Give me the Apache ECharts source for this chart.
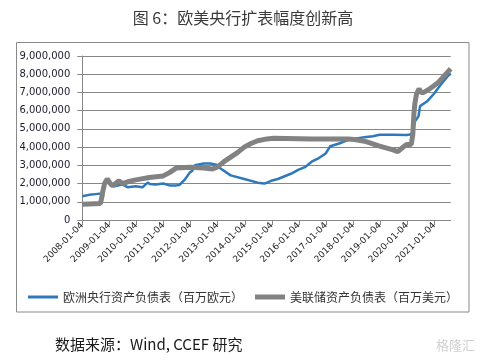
<!DOCTYPE html>
<html><head><meta charset="utf-8">
<script src="https://cdn.jsdelivr.net/npm/echarts@6/dist/echarts.min.js"></script>
<style>html,body{margin:0;padding:0;background:#fff}#c{width:486px;height:360px}</style>
</head><body><div id="c"></div>
<script>
const titleText = '图 6：欧美央行扩表幅度创新高';
const sourceText = '数据来源：Wind, CCEF 研究';
const ecbName = '欧洲央行资产负债表（百万欧元）';
const fedName = '美联储资产负债表（百万美元）';
const tickYears = [2008,2009,2010,2011,2012,2013,2014,2015,2016,2017,2018,2019,2020,2021];
const yTicks = [0,1000000,2000000,3000000,4000000,5000000,6000000,7000000,8000000,9000000];

const ecbDates = ['2008-01-04','2008-04-04','2008-07-04','2008-09-19','2008-10-17','2008-11-14','2008-12-26','2009-03-06','2009-06-26','2009-09-04','2009-12-25','2010-03-26','2010-06-04','2010-07-02','2010-09-24','2010-12-31','2011-03-25','2011-06-24','2011-08-05','2011-10-14','2011-12-23','2012-01-27','2012-03-02','2012-06-29','2012-09-28','2012-12-28','2013-02-01','2013-06-28','2013-12-27','2014-06-27','2014-09-26','2014-12-26','2015-03-27','2015-06-26','2015-09-25','2015-12-25','2016-03-25','2016-06-24','2016-09-30','2016-12-30','2017-03-03','2017-06-30','2017-09-29','2017-12-29','2018-03-30','2018-06-29','2018-09-28','2018-12-28','2019-06-28','2019-12-27','2020-02-28','2020-03-20','2020-04-17','2020-06-05','2020-06-26','2020-09-25','2020-12-25','2021-03-26','2021-06-25','2021-08-13'];
const ecbValues = [1300000,1380000,1420000,1450000,1850000,2050000,2050000,1850000,1950000,1800000,1850000,1800000,2050000,1980000,1950000,2000000,1900000,1900000,1920000,2200000,2600000,2700000,3000000,3100000,3100000,3020000,2850000,2450000,2250000,2050000,2000000,2150000,2250000,2400000,2550000,2750000,2900000,3200000,3400000,3650000,4050000,4200000,4350000,4450000,4500000,4550000,4600000,4680000,4680000,4670000,4700000,4900000,5400000,5700000,6250000,6500000,6900000,7400000,7850000,8050000];

const fedDates = ['2008-01-04','2008-09-05','2008-09-26','2008-10-03','2008-10-31','2008-12-05','2008-12-26','2009-01-23','2009-02-20','2009-04-10','2009-05-08','2009-07-03','2009-09-25','2009-12-25','2010-06-25','2010-12-31','2011-03-25','2011-06-24','2011-12-30','2012-06-29','2012-10-26','2012-12-28','2013-03-29','2013-06-28','2013-09-27','2013-12-27','2014-03-28','2014-06-27','2014-10-31','2015-01-30','2016-06-24','2017-10-27','2018-01-26','2018-06-29','2018-12-28','2019-06-28','2019-08-30','2019-10-25','2019-12-27','2020-02-28','2020-03-20','2020-04-03','2020-04-17','2020-05-08','2020-06-12','2020-07-10','2020-08-14','2020-10-16','2020-12-25','2021-02-26','2021-04-23','2021-06-18','2021-08-13'];
const fedValues = [870000,900000,1300000,1500000,2000000,2250000,2250000,1950000,1880000,2050000,2150000,2000000,2120000,2200000,2330000,2420000,2600000,2850000,2900000,2850000,2800000,2900000,3200000,3450000,3700000,4000000,4200000,4350000,4450000,4480000,4450000,4450000,4420000,4300000,4050000,3850000,3750000,3950000,4150000,4150000,4700000,5800000,6400000,6900000,7200000,7000000,7000000,7150000,7350000,7550000,7800000,8050000,8300000];

function ts(s){ const p=s.split('-'); return Date.UTC(+p[0], +p[1]-1, +p[2]); }
function pair(d, v){ return d.map((x,i)=>[ts(x), v[i]]); }
const tickVals = tickYears.map(y => Date.UTC(y,0,4));
function pad(n){ return (n<10?'0':'')+n; }
function fmtDate(v){ const d=new Date(v); return d.getUTCFullYear()+'-'+pad(d.getUTCMonth()+1)+'-'+pad(d.getUTCDate()); }
function fmtNum(v){ return String(v).replace(/\B(?=(\d{3})+(?!\d))/g, ','); }

const chart = echarts.init(document.getElementById('c'), null, {renderer:'canvas'});
const gridColor = '#878787';
const blue = '#2E78BC', gray = '#828282';
chart.setOption({
  animation:false,
  backgroundColor:'#fff',
  title:{text:titleText, left:'center', top:5, textStyle:{fontFamily:'Noto Sans CJK SC', fontSize:16, fontWeight:'normal', color:'#3a3a3a'}},
  grid:{left:82.3, right:35.3, top:56, bottom:140, containLabel:false},
  legend:{
    bottom:52, left:'center', itemWidth:30, itemHeight:10, itemGap:12,
    textStyle:{fontFamily:'Noto Sans CJK SC', fontSize:12, color:'#333'},
    data:[
      {name:ecbName, icon:'path://M0 0H30V3H0Z', itemStyle:{color:blue}},
      {name:fedName, icon:'path://M0 0H30V5H0Z', itemStyle:{color:gray}}
    ]
  },
  xAxis:{
    type:'value', min:ts('2008-01-04'), max:ts('2021-08-13'), scale:true,
    axisLine:{show:true, lineStyle:{color:gridColor, width:1}},
    axisTick:{show:true, customValues:tickVals, length:5, lineStyle:{color:gridColor}},
    axisLabel:{customValues:tickVals, rotate:45, margin:4, formatter:v=>fmtDate(v), fontFamily:'DejaVu Sans', fontSize:9, color:'#222', hideOverlap:false},
    splitLine:{show:false}
  },
  yAxis:{
    type:'value', min:0, max:9000000, interval:1000000,
    axisLine:{show:true, lineStyle:{color:gridColor, width:1}},
    axisTick:{show:true, length:5, lineStyle:{color:gridColor}},
    axisLabel:{formatter:v=>fmtNum(v), fontFamily:'DejaVu Sans', fontSize:10, color:'#1c1c2c', margin:12},
    splitLine:{show:true, lineStyle:{color:gridColor, width:1}}
  },
  series:[
    {name:ecbName, type:'line', data:pair(ecbDates, ecbValues), showSymbol:false, symbol:'none', lineStyle:{color:blue, width:2.5}, itemStyle:{color:blue}, z:2},
    {name:fedName, type:'line', data:pair(fedDates, fedValues), showSymbol:false, symbol:'none', lineStyle:{color:gray, width:5}, itemStyle:{color:gray}, z:3}
  ],
  graphic:[
    {type:'rect', shape:{x:16.5, y:42.5, width:452.5, height:269.5}, style:{fill:null, stroke:'#8a8a8a', lineWidth:1}, silent:true, z:-1},
    {type:'text', left:55, top:337, style:{text:sourceText, font:'15px "Noto Sans CJK SC"', fill:'#1a1a1a'}},
    {type:'text', left:436, top:339, style:{text:'格隆汇', font:'13px "Noto Sans CJK SC"', fill:'#d0d0d0'}}
  ]
});
</script></body></html>
